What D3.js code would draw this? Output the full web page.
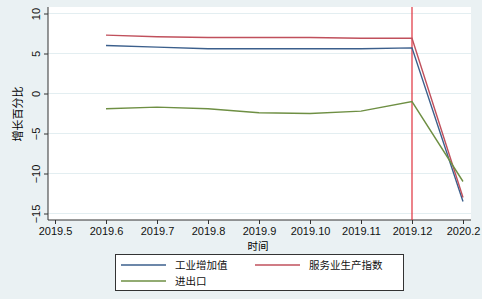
<!DOCTYPE html>
<html><head><meta charset="utf-8">
<script src="https://cdn.jsdelivr.net/npm/d3@7"></script>
<style>body{margin:0;background:#eaf1f3;} svg{display:block;font-family:"Liberation Sans",Arial,sans-serif;}</style>
</head><body>
<svg id="c" width="482" height="299"></svg>
<script>
const tickLabels = ["2019.5","2019.6","2019.7","2019.8","2019.9","2019.10","2019.11","2019.12","2020.2"];
const months = ["2019.6","2019.7","2019.8","2019.9","2019.10","2019.11","2019.12","2020.2"];
const industry = [6.0, 5.8, 5.6, 5.6, 5.6, 5.6, 5.7, -13.5];
const services = [7.3, 7.1, 7.0, 7.0, 7.0, 6.9, 6.9, -13.0];
const trade = [-1.9, -1.7, -1.9, -2.4, -2.5, -2.2, -1.0, -11.0];
const yTicks = [10, 5, 0, -5, -10, -15];
const seriesNames = ["工业增加值", "服务业生产指数", "进出口"];
const seriesColors = ["#3b5f8c", "#c0505c", "#6e8f43"];
const markerMonth = "2019.12";

const svg = d3.select("#c");
svg.append("rect").attr("width",482).attr("height",299).attr("fill","#eaf1f3");
const L=48, R=471, T=7, B=220;
svg.append("rect").attr("x",L).attr("y",T).attr("width",R-L).attr("height",B-T).attr("fill","#fff");

const x = d3.scalePoint().domain(tickLabels).range([55, 463]);
const y = d3.scaleLinear().domain([-15, 10]).range([213.5, 13.5]);

// grid
svg.append("g").selectAll("line").data(yTicks).join("line")
  .attr("x1",L).attr("x2",R).attr("y1",d=>y(d)).attr("y2",d=>y(d))
  .attr("stroke","#e3eef1").attr("stroke-width",1);

// axes
const ya = svg.append("g").attr("transform",`translate(${L},0)`)
  .call(d3.axisLeft(y).tickValues(yTicks).tickSize(4).tickPadding(4).tickFormat(d3.format("d")));
ya.select(".domain").attr("d",`M0,${T}V${B}`).attr("stroke","#333");
ya.selectAll(".tick line").attr("stroke","#333");
ya.selectAll(".tick text").attr("transform","rotate(-90)").attr("x",0).attr("y",-8)
  .attr("dy","0").attr("text-anchor","middle").attr("font-size",11).attr("fill","#111");

const xa = svg.append("g").attr("transform",`translate(0,${B})`)
  .call(d3.axisBottom(x).tickSize(4).tickPadding(3));
xa.select(".domain").attr("d",`M${L},0H${R}`).attr("stroke","#333");
xa.selectAll(".tick line").attr("stroke","#333");
xa.selectAll(".tick text").attr("font-size",11).attr("fill","#111");

svg.append("text").attr("x",258).attr("y",250).attr("text-anchor","middle")
  .attr("font-size",10.5).attr("font-family","Noto Sans CJK SC").text("时间");
svg.append("text").attr("transform","translate(22,114) rotate(-90)").attr("text-anchor","middle")
  .attr("font-size",11).attr("font-family","Noto Sans CJK SC").text("增长百分比");

// vertical marker
svg.append("line").attr("x1",x(markerMonth)).attr("x2",x(markerMonth)).attr("y1",T).attr("y2",B)
  .attr("stroke","#e0303c").attr("stroke-width",1.2);

const series = [industry, services, trade];
const line = d3.line().x((d,i)=>x(months[i])).y(d=>y(d));
series.forEach((s,k)=>{
  svg.append("path").attr("d",line(s)).attr("fill","none")
    .attr("stroke",seriesColors[k]).attr("stroke-width",1.4);
});

// legend
const lg = svg.append("g");
lg.append("rect").attr("x",115.5).attr("y",254.5).attr("width",288).attr("height",36)
  .attr("fill","#fff").attr("stroke","#333");
const pos = [[121,265],[255,265],[121,281]];
seriesNames.forEach((n,k)=>{
  const [px,py]=pos[k];
  lg.append("line").attr("x1",px).attr("x2",px+45).attr("y1",py).attr("y2",py)
    .attr("stroke",seriesColors[k]).attr("stroke-width",1.4);
  lg.append("text").attr("x",px+54).attr("y",py+4).attr("font-size",10.5)
    .attr("font-family","Noto Sans CJK SC").attr("fill","#111").text(n);
});
</script>
</body></html>
